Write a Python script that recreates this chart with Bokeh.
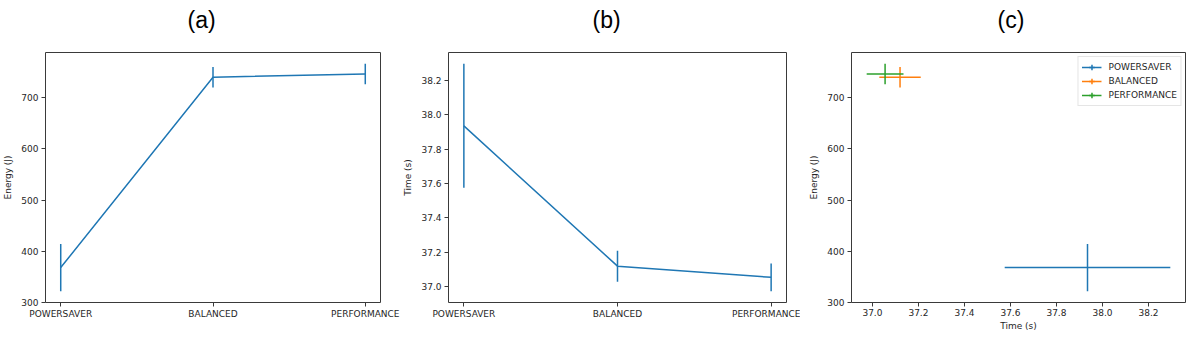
from bokeh.plotting import figure
from bokeh.layouts import row
from bokeh.models import (ColumnDataSource, Range1d, FixedTicker, NumeralTickFormatter,
                          Title, Legend, LegendItem)
from bokeh.embed import file_html
from bokeh.resources import INLINE

# ---------------- data ----------------
categories = ["POWERSAVER", "BALANCED", "PERFORMANCE"]
energy = [368, 740, 746]          # J
energy_err = [46, 20, 20]
time_s = [37.935, 37.12, 37.055]  # s
time_err = [0.36, 0.09, 0.08]

energy_ticks = [300, 400, 500, 600, 700]
time_ticks = [37.0, 37.2, 37.4, 37.6, 37.8, 38.0, 38.2]
panel_titles = ["(a)", "(b)", "(c)"]
series_colors = ["#1f77b4", "#ff7f0e", "#2ca02c"]
line_color = "#1f77b4"

TXT = "#262626"
FONT = "DejaVu Sans"


def padded(vals, errs, frac=0.05):
    lo = min(v - e for v, e in zip(vals, errs))
    hi = max(v + e for v, e in zip(vals, errs))
    pad = (hi - lo) * frac
    return lo - pad, hi + pad


def style(p):
    p.outline_line_color = "#3a3a3a"
    p.outline_line_width = 1
    p.background_fill_color = "white"
    p.border_fill_color = "white"
    p.grid.visible = False
    for ax in p.xaxis + p.yaxis:
        ax.axis_line_color = None
        ax.major_tick_line_color = "#3a3a3a"
        ax.major_tick_out = 4
        ax.major_tick_in = 0
        ax.minor_tick_line_color = None
        ax.major_label_text_font = FONT
        ax.major_label_text_font_size = "9px"
        ax.major_label_text_color = TXT
        ax.axis_label_text_font = FONT
        ax.axis_label_text_font_size = "9px"
        ax.axis_label_text_font_style = "normal"
        ax.axis_label_text_color = TXT
    for ax in p.yaxis:
        ax.major_label_standoff = 3
        ax.axis_label_standoff = 5
    for ax in p.xaxis:
        ax.major_label_standoff = 2
        ax.axis_label_standoff = 2


def add_title(p, text, offset):
    # white (invisible) spacer panel next to the frame, then the real title above it
    p.add_layout(Title(text=".", text_font_size="1px", text_color="white",
                       standoff=16), "above")
    p.add_layout(Title(text=text, align="left", vertical_align="middle",
                       text_font="Liberation Sans",
                       text_font_size="23px", text_font_style="normal",
                       text_color="black", offset=offset, standoff=0), "above")


idx = list(range(len(categories)))

# ---------------- panel (a) ----------------
src_a = ColumnDataSource(dict(x=idx, y=energy,
                              lo=[v - e for v, e in zip(energy, energy_err)],
                              hi=[v + e for v, e in zip(energy, energy_err)]))
ya = padded(energy, energy_err)
pa = figure(width=400, height=354, output_backend="svg", toolbar_location=None,
            x_range=Range1d(-0.1, len(categories) - 0.9), y_range=Range1d(*ya),
            min_border_left=44, min_border_right=20, min_border_top=52, min_border_bottom=52)
pa.line("x", "y", source=src_a, line_color=line_color, line_width=1.5)
pa.segment("x", "lo", "x", "hi", source=src_a, line_color=line_color, line_width=1.5)
pa.xaxis.ticker = FixedTicker(ticks=idx)
pa.xaxis.major_label_overrides = {i: c for i, c in zip(idx, categories)}
pa.yaxis.ticker = FixedTicker(ticks=energy_ticks)
pa.yaxis.axis_label = "Energy (J)"
style(pa)
add_title(pa, panel_titles[0], 142)

# ---------------- panel (b) ----------------
src_b = ColumnDataSource(dict(x=idx, y=time_s,
                              lo=[v - e for v, e in zip(time_s, time_err)],
                              hi=[v + e for v, e in zip(time_s, time_err)]))
yb = padded(time_s, time_err)
pb = figure(width=400, height=354, output_backend="svg", toolbar_location=None,
            x_range=Range1d(-0.1, len(categories) - 0.9), y_range=Range1d(*yb),
            min_border_left=48, min_border_right=14, min_border_top=52, min_border_bottom=52)
pb.line("x", "y", source=src_b, line_color=line_color, line_width=1.5)
pb.segment("x", "lo", "x", "hi", source=src_b, line_color=line_color, line_width=1.5)
pb.xaxis.ticker = FixedTicker(ticks=idx)
pb.xaxis.major_label_overrides = {i: c for i, c in zip(idx, categories)}
pb.yaxis.ticker = FixedTicker(ticks=time_ticks)
pb.yaxis.formatter = NumeralTickFormatter(format="0.0")
pb.yaxis.axis_label = "Time (s)"
style(pb)
add_title(pb, panel_titles[1], 144)

# ---------------- panel (c) ----------------
xc = padded(time_s, time_err)
pc = figure(width=391, height=354, output_backend="svg", toolbar_location=None,
            x_range=Range1d(*xc), y_range=Range1d(*ya),
            min_border_left=51, min_border_right=6, min_border_top=52, min_border_bottom=52)
items = []
for i, cat in enumerate(categories):
    s = ColumnDataSource(dict(t=[time_s[i]], e=[energy[i]],
                              tlo=[time_s[i] - time_err[i]], thi=[time_s[i] + time_err[i]],
                              elo=[energy[i] - energy_err[i]], ehi=[energy[i] + energy_err[i]]))
    col = series_colors[i]
    h = pc.segment("tlo", "e", "thi", "e", source=s, line_color=col, line_width=1.5)
    pc.segment("t", "elo", "t", "ehi", source=s, line_color=col, line_width=1.5)
    mk = pc.scatter("t", "e", source=s, marker="cross", size=0, line_color=col, line_width=1.5)
    items.append(LegendItem(label=cat, renderers=[h, mk]))
pc.xaxis.ticker = FixedTicker(ticks=time_ticks)
pc.xaxis.formatter = NumeralTickFormatter(format="0.0")
pc.xaxis.axis_label = "Time (s)"
pc.yaxis.ticker = FixedTicker(ticks=energy_ticks)
pc.yaxis.axis_label = "Energy (J)"
style(pc)
leg = Legend(items=items, location="top_right", margin=4, padding=3, spacing=0,
             glyph_width=20, glyph_height=14, label_height=14, label_standoff=7,
             label_text_font=FONT, label_text_font_size="9px", label_text_color=TXT,
             border_line_color="#cccccc", border_line_width=1, background_fill_alpha=0.8)
pc.add_layout(leg)
add_title(pc, panel_titles[2], 146)

layout = row(pa, pb, pc)
open("out.html", "w").write(file_html(layout, INLINE))
